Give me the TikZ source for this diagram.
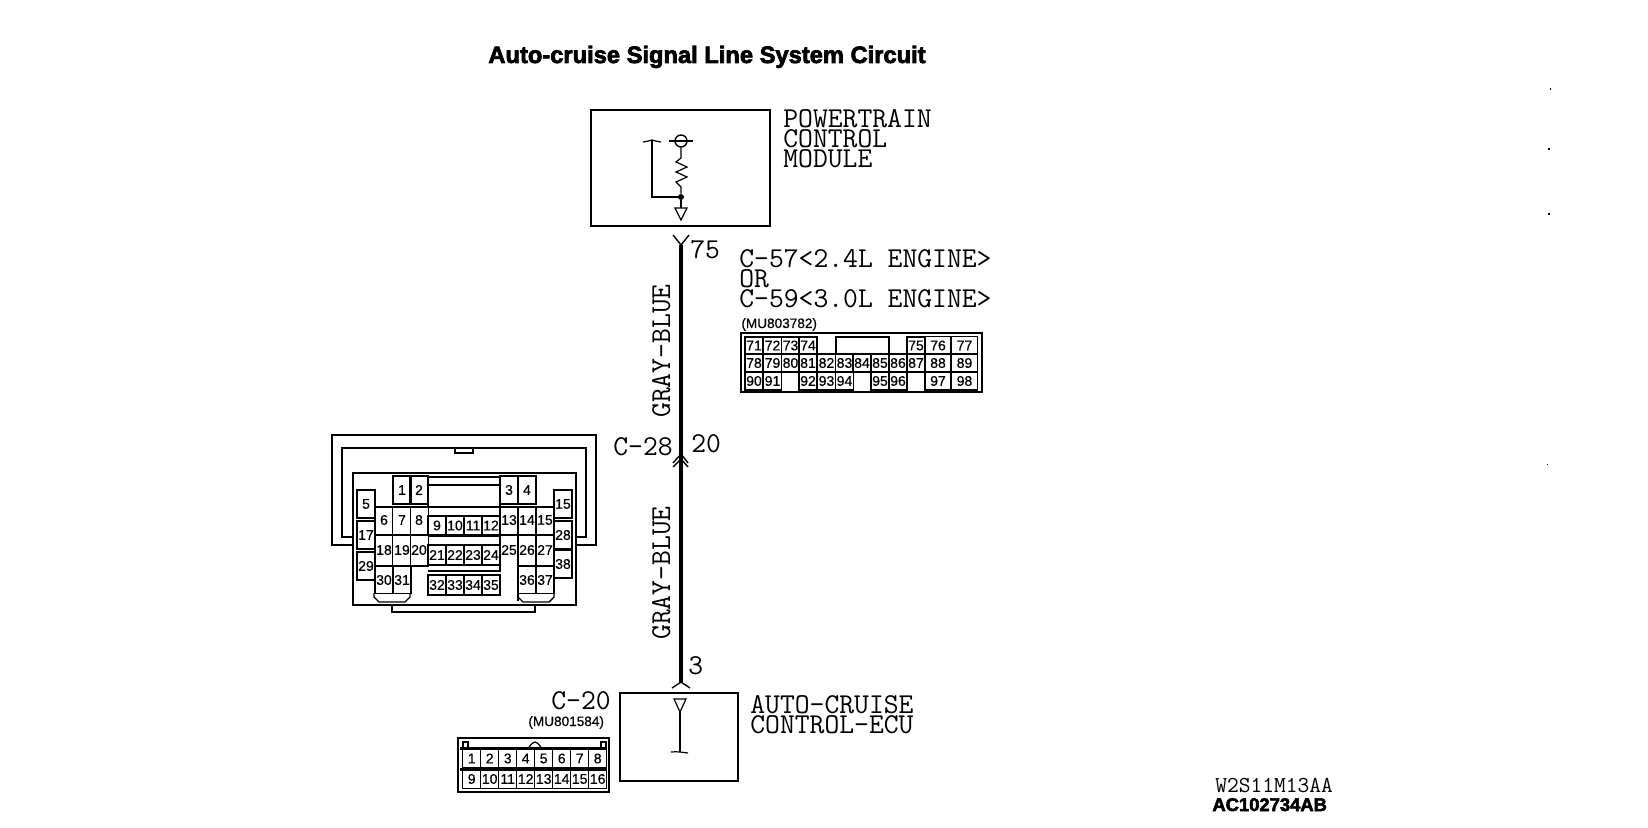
\documentclass[tikz,border=0pt]{standalone}
\usepackage{fontspec}
\newfontfamily\headfont[FakeBold=3]{Liberation Sans Bold}
\newfontfamily\pinfont[FakeBold=0.5]{Liberation Sans}
\tikzset{
	wirelabel/.style={font=\fontsize{14.4}{10}\ttfamily, inner sep=0pt, anchor=base west, align=left},
	sidelabel/.style={wirelabel, rotate=90, anchor=base},
	partlabel/.style={font=\fontsize{6.8}{8}\pinfont, inner sep=0pt, anchor=base west},
	box/.style={draw, line width=0.7pt},
	pincell/.style={draw, line width=0.6pt, inner sep=0pt, font=\fontsize{7}{8}\pinfont, minimum width=9pt, minimum height=13.5pt},
	heavy/.style={line width=1.2pt},
	thin part/.style={line width=0.6pt}
}
\begin{document}
\begin{tikzpicture}[x=0.5pt, y=-0.5pt]
	\useasboundingbox (0,0) rectangle (1648,828);
	\node[font=\fontsize{11.85}{14}\headfont, inner sep=0pt, anchor=base west] (title) at (488,63) {Auto-cruise Signal Line System Circuit};

	\draw[box] (591,110) rectangle (770,226);
	\draw[box] (620,693) rectangle (738,781);
	\node[wirelabel] (pcm) at (783,168) {POWERTRAIN\\CONTROL\\MODULE};
	\node[wirelabel] (ecu) at (750,733) {AUTO-CRUISE\\CONTROL-ECU};

	\node[circle, draw, line width=0.7pt, inner sep=0pt, minimum size=6pt] (term) at (681,141) {};
	\node[circle, fill=black, inner sep=0pt, minimum size=3pt] (joint) at (681,197) {};
	\coordinate (open) at (652,140);
	\coordinate (arrowa) at (681,208);
	\coordinate (ground) at (680,752);
	\draw[thin part] (669,141) -- (693,141);
	\draw[thin part] (term) -- (681,158) -- (676,162) -- (687,167) -- (676,172) -- (687,177) -- (676,182) -- (681,187) -- (joint);
	\draw[heavy] (joint) -| (open);
	\draw[thin part] (643,142) to [out=-10, in=180] (open) to [out=0, in=190] (661,142);
	\draw[thin part] (joint) -- (arrowa);
	\draw[thin part] (675,208) -- (687,208) -- (681,220) -- cycle;
	\draw[thin part] (674,699) -- (686,699) -- (680,712) -- cycle;
	\draw[thin part] (680,712) -- (ground);
	\draw[thin part] (671,752) to [out=0, in=170] (ground) to [out=-10, in=180] (688,753);

	\coordinate (wiretop) at (681,245);
	\coordinate (wiremid) at (681,458);
	\coordinate (wireend) at (681,682);
	\draw[line width=2.4pt] (wiretop) -- (wiremid);
	\draw[line width=2.4pt] (wiremid) -- (wireend);
	\draw[line width=0.7pt] (673,235) -- (wiretop) -- (689,235);
	\draw[line width=0.7pt] (673,463) -- (681,454) -- (688,463);
	\draw[line width=0.7pt] (673,467) -- (681,459) -- (688,467);
	\draw[line width=0.7pt] (672,688) -- (wireend) -- (690,688);

	\node[wirelabel] (pina) at (690,259) {75};
	\node[wirelabel] (pinb) at (691,452) {20};
	\node[wirelabel] (pinc) at (688,674) {3};
	\node[sidelabel] (upper) at (670,351) {GRAY-BLUE};
	\node[sidelabel] (lower) at (670,573) {GRAY-BLUE};
	\node[wirelabel] (cb) at (613,455) {C-28};
	\node[wirelabel] (cc) at (551,709) {C-20};
	\node[wirelabel] (ca) at (739,308) {C-57<2.4L ENGINE>\\OR\\C-59<3.0L ENGINE>};
	\node[partlabel] (parta) at (741,328) {(MU803782)};
	\node[partlabel] (partc) at (528,726) {(MU801584)};

	\draw[box] (741,333) rectangle (982,392);
	\draw[box] (836,337) rectangle (889,354);
	\foreach \n/\x in {71/754,72/772.5,73/790.5,74/808,75/916}
		\node[pincell, minimum height=8.5pt] (pin\n) at (\x,345.5) {\n};
	\foreach \n/\x in {78/754,79/772.5,80/790.5,81/808,82/826.5,83/844.5,84/862,85/880,86/898,87/916}
		\node[pincell, minimum height=9pt] (pin\n) at (\x,363) {\n};
	\foreach \n/\x in {90/754,91/772.5,92/808,93/826.5,94/844.5,95/880,96/898}
		\node[pincell, minimum height=9pt] (pin\n) at (\x,381) {\n};
	\foreach \n/\x/\y in {76/938/345.5,77/964.5/345.5,88/938/363,89/964.5/363,97/938/381,98/964.5/381}
		\node[pincell, minimum width=13pt, minimum height=9pt] (pin\n) at (\x,\y) {\n};

	\draw[box] (458,738) rectangle (609,792);
	\draw[line width=1.5pt] (460,748) -- (607,748);
	\draw[line width=1.5pt] (460,769) -- (607,769);
	\draw[thin part] (527,748) to [out=-90, in=180] (535,742) to [out=0, in=-90] (543,748);
	\draw[thin part] (463,748) rectangle (468,742);
	\draw[thin part] (601,748) rectangle (606,742);
	\foreach \n [count=\k from 0] in {1,...,8}
		\node[pincell, minimum height=9.5pt] (plug\n) at ({471.7+18*\k},758.5) {\n};
	\foreach \n [count=\k from 0] in {9,...,16}
		\node[pincell, minimum height=9.5pt] (plug\n) at ({471.7+18*\k},779) {\n};

	\draw[thin part] (353,537) -| (342,448) -| (586,537) -- (576,537);
	\draw[box] (353,545) -- (332,545) |- (596,435) |- (576,545);
	\draw[box] (455,448) |- (473,453) -- (473,448);
	\draw[box] (353,473) rectangle (576,605);
	\draw[box] (392,605) |- (535,612) -- (535,605);
	\draw[box] (428,477) rectangle (500,507);
	\draw[box] (428,485) -- (500,485);
	\draw[box] (428,536) -- (500,536);
	\draw[box] (428,571) -- (500,571);
	\foreach \x in {375,392.7,410.3,428.3}
		\draw[thin part] (\x,507) -- (\x,567);
	\foreach \x in {536,554}
		\draw[thin part] (\x,507) -- (\x,593);
	\draw[heavy] (500,477) -- (500,572);
	\draw[heavy] (518,507) -- (518,601);
	\draw[heavy] (375,535) -- (554,535);
	\draw[heavy] (375,566) -- (428,566);
	\draw[heavy] (428,565) -- (500,565);
	\draw[heavy] (518,566) -- (554,566);
	\draw[heavy] (375,507) -- (428,507);
	\draw[heavy] (500,507) -- (554,507);
	\draw[box] (374,593) -- (374,597) -- (379,602) -- (405,602) -- (410,597) -- (410,593);
	\draw[box] (518,597) -- (523,602) -- (549,602) -- (554,597) -- (554,593);
	\foreach \n/\x in {1/402,2/419,3/509,4/527}
		\node[pincell, minimum height=14pt] (slot\n) at (\x,490) {\n};
	\foreach \n/\x in {6/384,7/402,8/419,13/509,14/527,15/545}
		\node[pincell, draw=none, minimum height=13pt] (slot\n) at (\x,520) {\n};
	\foreach \n/\x in {9/437,10/455,11/473,12/491}
		\node[pincell, minimum height=9.5pt] (slot\n) at (\x,525.5) {\n};
	\foreach \n/\x in {18/384,19/402,20/419,25/509,26/527,27/545}
		\node[pincell, draw=none, minimum height=13pt] (slot\n) at (\x,550) {\n};
	\foreach \n/\x in {21/437,22/455,23/473,24/491}
		\node[pincell, minimum height=10pt] (slot\n) at (\x,555) {\n};
	\foreach \n/\x in {30/384,31/402,36/527,37/545}
		\node[pincell, minimum height=13.5pt] (slot\n) at (\x,580) {\n};
	\foreach \n/\x in {32/437,33/455,34/473,35/491}
		\node[pincell, minimum height=10pt] (slot\n) at (\x,585) {\n};
	\foreach \n/\m/\x/\y in {5/a/366/504,17/b/366/535,29/c/366/566,15/d/563/504,28/e/563/535,38/f/563/564}
		\node[pincell, line width=0.9pt, minimum height=14pt] (side\m) at (\x,\y) {\n};

	\fill (1549.5,88.5) rectangle (1551,90);
	\fill (1548,148.5) rectangle (1549.5,150);
	\fill (1548,213.5) rectangle (1549.5,215);
	\fill (1546.5,463.5) rectangle (1548,465);

	\node[wirelabel, font=\fontsize{11.4}{12}\ttfamily] (code) at (1215,792) {W2S11M13AA};
	\node[font=\fontsize{9.2}{10}\headfont, inner sep=0pt, anchor=base west] (ref) at (1212,811) {AC102734AB};
\end{tikzpicture}
\end{document}
